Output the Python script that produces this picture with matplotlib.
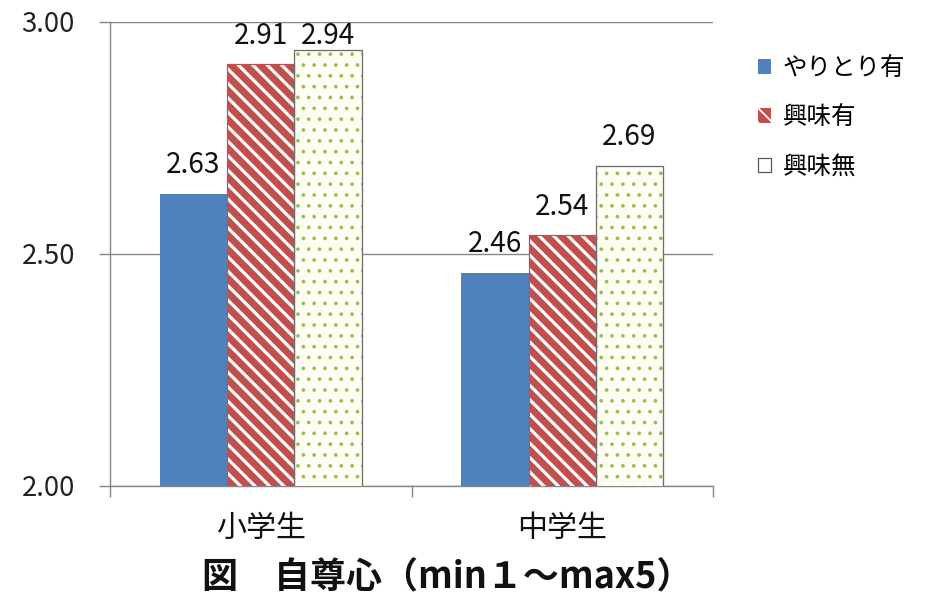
import matplotlib
matplotlib.use("Agg")
import matplotlib.pyplot as plt
from matplotlib.patches import Patch
import numpy as np

plt.rcParams['font.family'] = ['Noto Sans CJK JP', 'DejaVu Sans']

categories = ["小学生", "中学生"]
series_names = ["やりとり有", "興味有", "興味無"]
yaritori = [2.63, 2.46]
kyomi_ari = [2.91, 2.54]
kyomi_nashi = [2.94, 2.69]
yticks = [2.00, 2.50, 3.00]
title = "図　自尊心（min１～max5）"

DPI = 130
W, H = 928, 598
def pt(px):
    return px * 72.0 / DPI

BLUE = "#4F81BD"
RED = "#C0504D"
GREEN = "#9BBB59"
CREAM = "#FDFDF2"
GRID = "#868686"

fig = plt.figure(figsize=(W / DPI, H / DPI), dpi=DPI)
ax = fig.add_axes([110 / W, 1 - 486 / H, (713 - 110) / W, (486 - 22) / H])

x = np.arange(len(categories))
bw = 0.223

def hatch_lw(bars, lw):
    for b in bars:
        if hasattr(b, "set_hatch_linewidth"):
            b.set_hatch_linewidth(lw)

with plt.rc_context({'hatch.linewidth': pt(3.2)}):
    b1 = ax.bar(x - bw, yaritori, bw, color=BLUE, linewidth=0, zorder=3)
    b2 = ax.bar(x, kyomi_ari, bw, color=RED, edgecolor="white", hatch="\\\\\\", linewidth=0, zorder=3)
    hatch_lw(b2, pt(3.2))
ax.bar(x, kyomi_ari, bw, fill=False, edgecolor=RED, linewidth=pt(1.2), zorder=4)
with plt.rc_context({'hatch.linewidth': pt(1.5)}):
    b3 = ax.bar(x + bw, kyomi_nashi, bw, color=CREAM, edgecolor=GREEN, hatch="..", linewidth=0, zorder=3)
    hatch_lw(b3, pt(1.5))
ax.bar(x + bw, kyomi_nashi, bw, fill=False, edgecolor="#6E6E6E", linewidth=pt(1.3), zorder=4)

ax.set_ylim(2.0, 3.0)
ax.set_xlim(-0.5, 1.5)
ax.set_yticks(yticks)
ax.set_yticklabels([f"{v:.2f}" for v in yticks])
ax.yaxis.grid(True, color=GRID, linewidth=pt(1.4), zorder=0)
ax.set_axisbelow(True)

for s in ["top", "right"]:
    ax.spines[s].set_visible(False)
for s in ["left", "bottom"]:
    ax.spines[s].set_color(GRID)
    ax.spines[s].set_linewidth(pt(1.4))

ax.tick_params(axis="y", length=pt(11), width=pt(1.4), color=GRID, pad=pt(24),
               labelsize=pt(27.5), labelcolor="#222222")
ax.set_xticks(x)
ax.set_xticklabels(categories)
ax.set_xticks([-0.5, 0.5, 1.5], minor=True)
ax.tick_params(axis="x", which="major", length=0, pad=pt(27), labelsize=pt(30), labelcolor="#111111")
ax.tick_params(axis="x", which="minor", length=pt(11), width=pt(1.4), color=GRID)

# data labels: just above the bar, kept inside the plot area
gap = 0.045
top_limit = 3.0 - 0.047
for offs, vals in [(-bw, yaritori), (0, kyomi_ari), (bw, kyomi_nashi)]:
    for xi, v in zip(x, vals):
        ax.text(xi + offs, min(v + gap, top_limit), f"{v:.2f}", ha="center", va="baseline",
                fontsize=pt(28), color="#111111", zorder=5)

handles = [
    Patch(facecolor=BLUE, edgecolor=BLUE, linewidth=0),
    Patch(facecolor=RED, edgecolor="white", hatch="\\\\\\", linewidth=0),
    Patch(facecolor="white", edgecolor="#555555", linewidth=pt(1.2)),
]
leg = fig.legend(handles, series_names, loc="upper left",
                 bbox_to_anchor=(758 / W, 1 - 55 / H), frameon=False,
                 fontsize=pt(24.5), handlelength=0.55, handleheight=0.55,
                 handletextpad=0.45, labelspacing=0.95, borderpad=0, borderaxespad=0)

fig.text(447 / W, 1 - 578 / H, title, ha="center", va="center",
         fontsize=pt(36), fontweight="bold", color="#111111")

fig.savefig("out.png", dpi=DPI)
